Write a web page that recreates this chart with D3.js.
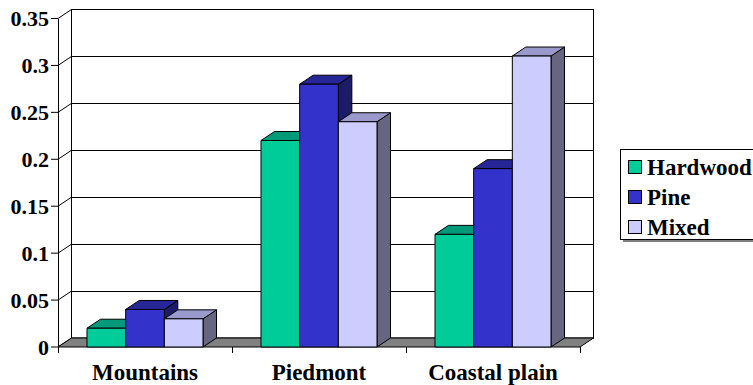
<!DOCTYPE html>
<html>
<head>
<meta charset="utf-8">
<script src="https://cdn.jsdelivr.net/npm/d3@7"></script>
<style>
  html, body { margin: 0; padding: 0; background: #fff; }
  svg { display: block; }
</style>
</head>
<body>
<svg id="chart" width="753" height="385"></svg>
<script>
// Regions along the x axis
const categories = ["Mountains", "Piedmont", "Coastal plain"];
// Forest types (one bar per region)
const series = ["Hardwood", "Pine", "Mixed"];
const hardwood = [0.02, 0.22, 0.12];
const pine = [0.04, 0.28, 0.19];
const mixed = [0.03, 0.24, 0.31];
const yTicks = [0, 0.05, 0.1, 0.15, 0.2, 0.25, 0.3, 0.35];
const yTickLabels = ["0", "0.05", "0.1", "0.15", "0.2", "0.25", "0.3", "0.35"];

const values = { Hardwood: hardwood, Pine: pine, Mixed: mixed };
// front / top / side shades for the 3-D columns
const colors = {
  Hardwood: { front: "#00CC99", top: "#00997A", side: "#006652" },
  Pine:     { front: "#3333CC", top: "#262699", side: "#1C1C66" },
  Mixed:    { front: "#CCCCFF", top: "#9999CC", side: "#666680" }
};

const FONT = "'Liberation Serif', 'Times New Roman', Times, serif";

const svg = d3.select("#chart");

// oblique depth offset of the 3-D box
const DX = 13.5, DY = -9;
const plotLeft = 58, plotRight = 580, plotBottom = 347, plotTop = 18.5;

const y = d3.scaleLinear().domain([0, 0.35]).range([plotBottom, plotTop]);
const x0 = d3.scaleBand().domain(categories).range([plotLeft, plotRight]).padding(0);
const x1 = d3.scaleBand().domain(series).range([0, x0.bandwidth()]).paddingInner(0).paddingOuter(0.75);

const pts = a => a.map(p => p.join(",")).join(" ");
const label = (sel, size) => sel.style("font-family", FONT).style("font-weight", "bold")
  .style("font-size", size + "px").attr("fill", "#000");

// back wall
svg.append("rect")
  .attr("x", plotLeft + DX).attr("y", y(0.35) + DY)
  .attr("width", plotRight - plotLeft).attr("height", y(0) - y(0.35))
  .attr("fill", "#fff").attr("stroke", "#000").attr("stroke-width", 1);

// gridlines on back wall and left wall
const grid = svg.append("g").attr("shape-rendering", "crispEdges");
yTicks.forEach(t => {
  grid.append("line")
    .attr("x1", plotLeft + DX).attr("x2", plotRight + DX)
    .attr("y1", y(t) + DY).attr("y2", y(t) + DY)
    .attr("stroke", "#000");
});
const diag = svg.append("g");
yTicks.forEach(t => {
  diag.append("line")
    .attr("x1", plotLeft).attr("y1", y(t))
    .attr("x2", plotLeft + DX).attr("y2", y(t) + DY)
    .attr("stroke", "#000").attr("stroke-width", 1);
});

// left wall front edge (value axis) and back edge
svg.append("line").attr("x1", plotLeft).attr("x2", plotLeft).attr("y1", y(0.35)).attr("y2", y(0))
  .attr("stroke", "#000").attr("shape-rendering", "crispEdges");
svg.append("line").attr("x1", plotLeft + DX).attr("x2", plotLeft + DX).attr("y1", y(0.35) + DY).attr("y2", y(0) + DY)
  .attr("stroke", "#000").attr("shape-rendering", "crispEdges");

// floor
svg.append("polygon")
  .attr("points", pts([[plotLeft, y(0)], [plotRight, y(0)], [plotRight + DX, y(0) + DY], [plotLeft + DX, y(0) + DY]]))
  .attr("fill", "#808080").attr("stroke", "#000").attr("stroke-width", 1);

// value axis ticks and labels
const yAxis = svg.append("g");
yTicks.forEach((t, i) => {
  yAxis.append("line").attr("x1", plotLeft - 7).attr("x2", plotLeft).attr("y1", y(t)).attr("y2", y(t))
    .attr("stroke", "#000");
  yAxis.append("text")
    .attr("x", plotLeft - 9).attr("y", y(t) + 7.5)
    .attr("text-anchor", "end")
    .call(label, 22)
    .text(yTickLabels[i]);
});

// category axis ticks and labels
const xAxis = svg.append("g");
[...categories.map(c => x0(c)), plotRight].forEach(xv => {
  xAxis.append("line").attr("x1", xv).attr("x2", xv).attr("y1", y(0)).attr("y2", y(0) + 6)
    .attr("stroke", "#000").attr("shape-rendering", "crispEdges");
});
categories.forEach(c => {
  xAxis.append("text")
    .attr("x", x0(c) + x0.bandwidth() / 2).attr("y", 380)
    .attr("text-anchor", "middle")
    .call(label, 23)
    .text(c);
});

// 3-D columns, drawn left to right so later fronts cover earlier sides
const bars = svg.append("g");
categories.forEach((c, ci) => {
  series.forEach(s => {
    const v = values[s][ci];
    const xl = x0(c) + x1(s), xr = xl + x1.bandwidth();
    const yt = y(v), yb = y(0);
    const col = colors[s];
    const g = bars.append("g").attr("stroke", "#000").attr("stroke-width", 1).attr("stroke-linejoin", "round");
    g.append("polygon").attr("fill", col.side)
      .attr("points", pts([[xr, yb], [xr + DX, yb + DY], [xr + DX, yt + DY], [xr, yt]]));
    g.append("polygon").attr("fill", col.top)
      .attr("points", pts([[xl, yt], [xr, yt], [xr + DX, yt + DY], [xl + DX, yt + DY]]));
    g.append("rect").attr("fill", col.front)
      .attr("x", xl).attr("y", yt).attr("width", xr - xl).attr("height", yb - yt);
  });
});

// legend
const lg = svg.append("g");
lg.append("rect").attr("x", 623).attr("y", 151.5).attr("width", 140).attr("height", 90.5)
  .attr("fill", "#808080");
lg.append("rect").attr("x", 620.5).attr("y", 149.5).attr("width", 140).attr("height", 90)
  .attr("fill", "#fff").attr("stroke", "#000").attr("stroke-width", 1);
const ly = d3.scalePoint().domain(series).range([167, 227]);
series.forEach(s => {
  lg.append("rect").attr("x", 628.5).attr("y", ly(s) - 6.5).attr("width", 13).attr("height", 13)
    .attr("fill", colors[s].front).attr("stroke", "#000").attr("stroke-width", 1);
  lg.append("text").attr("x", 647).attr("y", ly(s) + 7.5).call(label, 23).text(s);
});
</script>
</body>
</html>
